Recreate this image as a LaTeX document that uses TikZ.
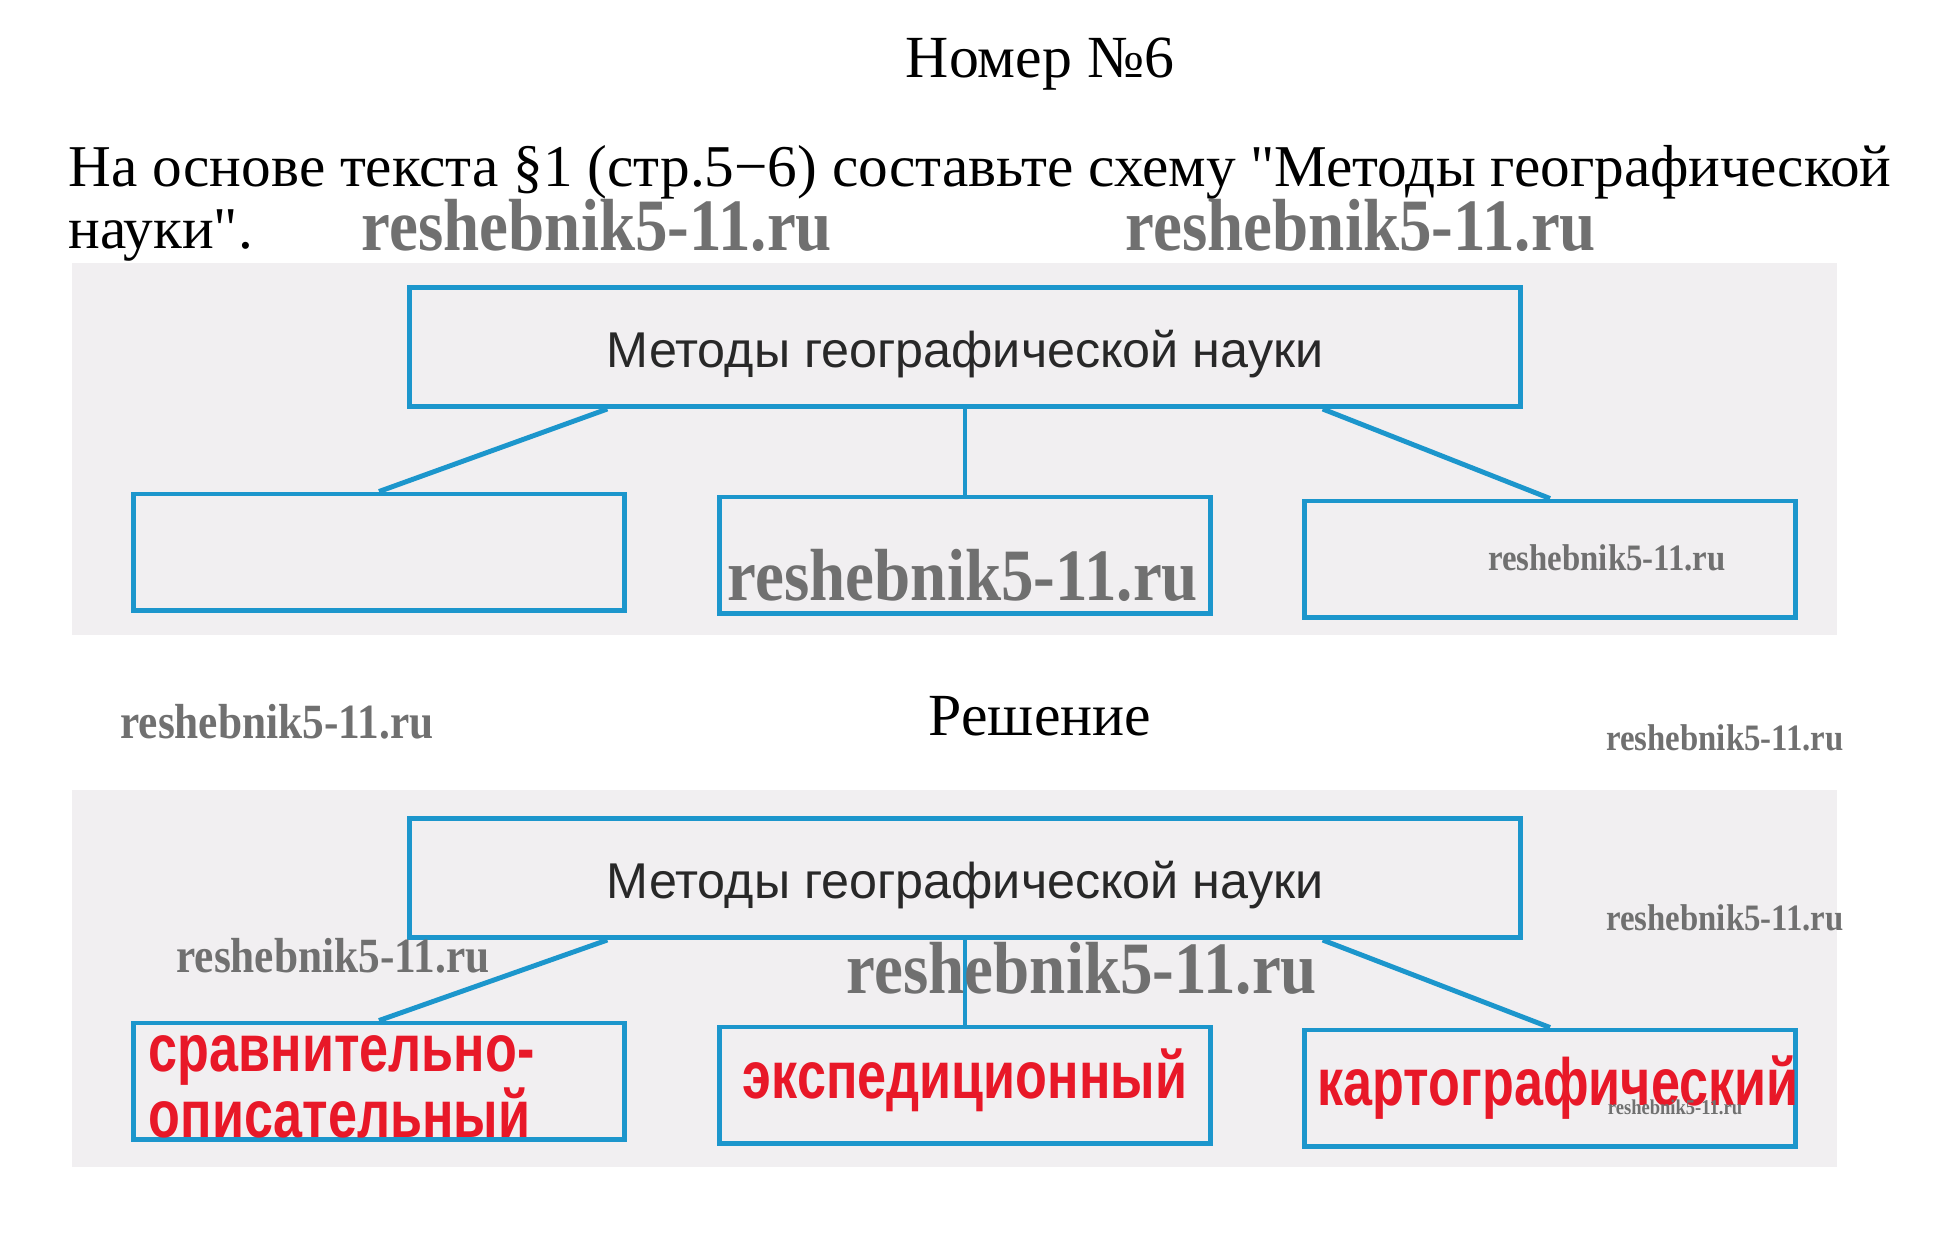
\documentclass[tikz,border=0pt]{standalone}
\usepackage{fontspec}
\setmainfont{Liberation Serif}
\newfontfamily\taskfont{Liberation Serif}
\newfontfamily\schemefont{Liberation Sans}
\newfontfamily\answerfont[FakeStretch=0.78]{Liberation Sans Bold}
\newfontfamily\markfont[FakeStretch=0.88]{Liberation Serif Bold}
\definecolor{frameblue}{RGB}{28,150,204}
\definecolor{answerred}{RGB}{232,24,40}
\definecolor{scangray}{RGB}{241,239,241}
\definecolor{markgray}{RGB}{112,112,112}
\definecolor{headgray}{RGB}{40,40,40}
\newcommand{\shiftv}[2]{\raisebox{#1}[\height][\depth]{#2}}

\begin{document}
\begin{tikzpicture}[x=0.01cm, y=-0.01cm,
	frame/.style={draw=frameblue, line width=1.4pt, inner sep=0pt, minimum width=4.9cm, minimum height=1.16cm},
	topframe/.style={frame, minimum width=11.1cm, minimum height=1.19cm, font=\schemefont\fontsize{14.3}{16}\selectfont, text=headgray},
	answer/.style={font=\answerfont\fontsize{19}{17.6}\selectfont, text=answerred},
	link/.style={draw=frameblue, line width=1.4pt},
	wmark/.style={font=\markfont\fontsize{#1}{#1}\selectfont, text=markgray, inner sep=0pt},
	task/.style={font=\taskfont\fontsize{#1}{20}\selectfont, inner sep=0pt}]
			\useasboundingbox (0,0) rectangle (1946,1251);
			\node[task=17, anchor=base] (nomer) at (1040,77) {Номер №6};
			\node[task=16.85, anchor=base west] (task1) at (68,186) {На основе текста §1 (стр.5−6) составьте схему "Методы географической};
			\node[task=16.85, anchor=base west] (task2) at (68,248) {науки".};
			% empty scheme
			\fill[scangray] (72,263) rectangle (1837,635);
			\node[topframe] (q) at (965,347) {\shiftv{-2.1pt}{Методы географической науки}};
			\node[frame] (q1) at (379,552) {};
			\node[frame] (q2) at (965,555) {};
			\node[frame] (q3) at (1550,559) {};
			\draw[link] ([xshift=2cm]q.south west) -- (q1.north);
			\draw[link] (q.south) -- (q2.north);
			\draw[link] ([xshift=-2cm]q.south east) -- (q3.north);
			% solution
			\node[task=17, anchor=base] (resh) at (1040,735) {Решение};
			\fill[scangray] (72,790) rectangle (1837,1167);
			\node[topframe] (a) at (965,878) {\shiftv{-2.1pt}{Методы географической науки}};
			\node[frame, answer, text width=4.6cm, align=left] (a1) at (379,1081) {\shiftv{-1.7pt}{сравнительно-}\\\shiftv{-1.4pt}{описательный}};
			\node[frame, answer] (a2) at (965,1085) {\shiftv{1.4pt}{экспедиционный}};
			\node[frame, answer] (a3) at (1550,1088) {\makebox[0pt]{\kern0.16cm картографический}};
			\draw[link] ([xshift=2cm]a.south west) -- (a1.north);
			\draw[link] (a.south) -- (a2.north);
			\draw[link] ([xshift=-2cm]a.south east) -- (a3.north);
			% watermarks
			\node[wmark=21, anchor=base] (wm1) at (597,250) {reshebnik5-11.ru};
			\node[wmark=21, anchor=base] (wm2) at (1361,250) {reshebnik5-11.ru};
			\node[wmark=21] (wm3) at (963,575) {reshebnik5-11.ru};
			\node[wmark=10.6] (wm4) at (1607,558) {reshebnik5-11.ru};
			\node[wmark=14] (wm5) at (277,722) {reshebnik5-11.ru};
			\node[wmark=10.6] (wm6) at (1725,738) {reshebnik5-11.ru};
			\node[wmark=14] (wm7) at (333,956) {reshebnik5-11.ru};
			\node[wmark=21] (wm8) at (1082,968) {reshebnik5-11.ru};
			\node[wmark=10.6] (wm9) at (1725,918) {reshebnik5-11.ru};
			\node[wmark=6] (wm10) at (1675,1107) {reshebnik5-11.ru};
\end{tikzpicture}
\end{document}
